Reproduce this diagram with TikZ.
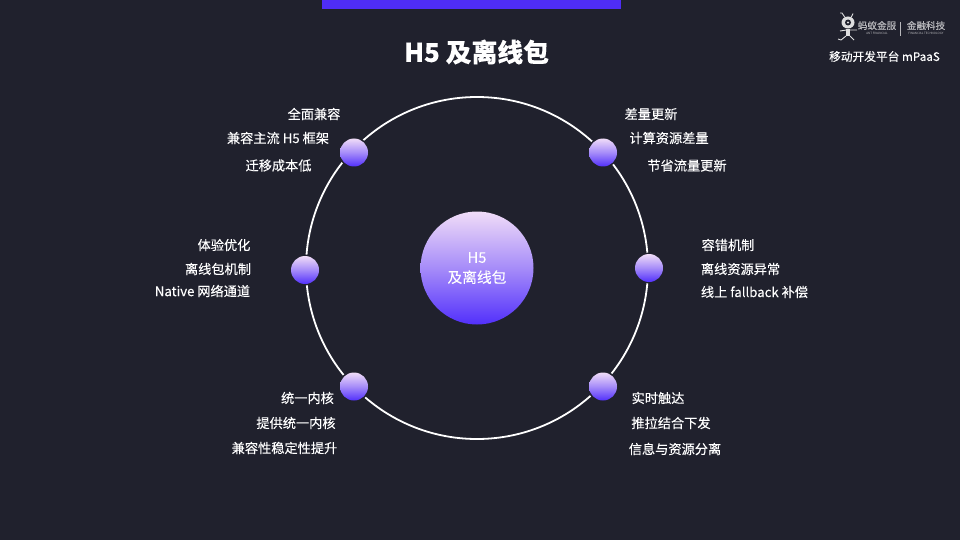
\documentclass[tikz,border=0pt]{standalone}
\usepackage{fontspec}
\setmainfont{Noto Sans CJK SC}[FakeBold=0.12]
\newfontfamily\plainf{Noto Sans CJK SC}
\newfontfamily\boldf{Noto Sans CJK SC}[FakeBold=0.5]
\definecolor{bg}{HTML}{20212D}
\definecolor{barc}{HTML}{4F2DF6}
\definecolor{gtop}{HTML}{F0DCF8}
\definecolor{gmid}{HTML}{A68CF9}
\definecolor{gbot}{HTML}{5230FB}
\definecolor{logoc}{HTML}{B8B8BC}
\tikzset{
  every node/.style={inner sep=0pt,outer sep=0pt,text=white},
  lbl/.style={font=\fontsize{13.2}{15}\selectfont},
  hub/.style={circle,minimum size=113pt,top color=gtop,bottom color=gbot,middle color=gmid,shading=axis},
  dotn/.style={circle,minimum size=28pt,top color=gtop,bottom color=gbot,middle color=gmid,shading=axis},
  ringline/.style={draw=white,line width=1.8pt},
  logo/.style={text=logoc,font=\fontsize{9.6}{10}\boldf},
  tiny/.style={text=logoc,font=\fontsize{3}{3}\plainf}
}
\begin{document}
\begin{tikzpicture}[x=1pt,y=-1pt]
\fill[bg] (0,0) rectangle (960,540);
\useasboundingbox (0,0) rectangle (960,540);
\fill[barc] (322,0) rectangle (621,9);
\node[font=\fontsize{25.8}{28}\selectfont\bfseries] (title) at (476.5,52) {H5 及离线包};
% ring
\coordinate (c) at (477,268);
\draw[ringline] (c) circle[radius=171];
% hub
\node[hub] (hub) at (c) {};
\node[font=\fontsize{14.7}{19}\selectfont,align=center] (hubt) at (477,268) {H5\\[1pt]及离线包};
% dots
\foreach \n/\x/\y in {a/354/152.5,b/603/152.5,c2/305/270,d/649/268,e/354/386.5,f/603/386.5}{
  \fill[bg] (\x,\y) circle[radius=15.5];
  \node[dotn] (\n) at (\x,\y) {};
}
% labels
\node[lbl] (a1) at (314,114) {全面兼容};
\node[lbl] (a2) at (278,138) {兼容主流 H5 框架};
\node[lbl] (a3) at (278.5,165.5) {迁移成本低};
\node[lbl] (b1) at (651,114) {差量更新};
\node[lbl] (b2) at (669,138) {计算资源差量};
\node[lbl] (b3) at (687,165.5) {节省流量更新};
\node[lbl] (c1) at (224,245) {体验优化};
\node[lbl] (c3) at (218,269) {离线包机制};
\node[lbl] (c4) at (202.5,291) {Native 网络通道};
\node[lbl] (d1) at (728,245) {容错机制};
\node[lbl] (d2) at (740.5,269) {离线资源异常};
\node[lbl] (d3) at (754.5,292) {线上 fallback 补偿};
\node[lbl] (e1) at (307.5,398) {统一内核};
\node[lbl] (e2) at (296,423) {提供统一内核};
\node[lbl] (e3) at (284.5,448) {兼容性稳定性提升};
\node[lbl] (f1) at (658,398) {实时触达};
\node[lbl] (f2) at (671,423) {推拉结合下发};
\node[lbl] (f3) at (675,449) {信息与资源分离};
% top-right
\node[font=\fontsize{11.7}{14}\selectfont] (plat) at (884.5,56.5) {移动开发平台 mPaaS};
\node[logo] (l1) at (877,25.5) {蚂蚁金服};
\node[tiny] (l1s) at (877,33.5) {ANT FINANCIAL};
\node[logo] (l2) at (926,25.5) {金融科技};
\node[tiny] (l2s) at (926,33.5) {FINANCIAL TECHNOLOGY};
\draw[logoc,line width=0.5pt] (900.5,22) -- (900.5,36);
% ant
\fill[white!85!bg] (848,22.5) ellipse[x radius=6.5,y radius=6];
\fill[bg] (848,22.5) circle[radius=3];
\fill[white!85!bg] (848,22.5) circle[radius=1.2];
\fill[white!85!bg] (846,29) rectangle (850,36);
\draw[white!85!bg,line width=0.9pt] (845,17.5) -- (842,13) -- (840,13) (851,17.5) -- (853,13.5) (846,36) -- (841,40) -- (838,39) (850,36) -- (854,40) (846.5,30) -- (840,31) (850,30) -- (857,30);
\end{tikzpicture}
\end{document}
